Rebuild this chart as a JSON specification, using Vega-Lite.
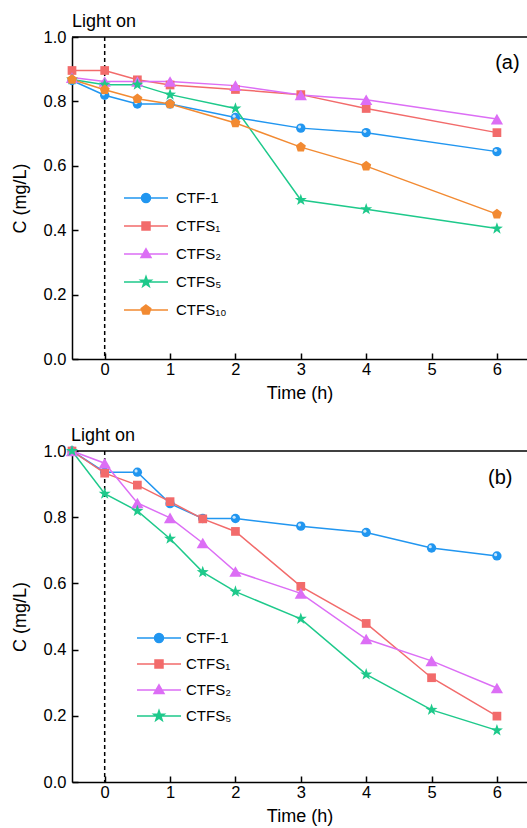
{
  "$schema": "https://vega.github.io/schema/vega-lite/v6.json",
  "background": "white",
  "padding": {"left": 11, "top": 13, "right": 0, "bottom": 4},
  "spacing": 25,
  "config": {
    "font": "Liberation Sans",
    "view": {"stroke": null},
    "axis": {
      "domainColor": "black", "domainWidth": 1.5, "tickColor": "black", "tickWidth": 1.5,
      "labelColor": "black", "labelFontSize": 16.5, "labelFont": "Liberation Sans",
      "titleFont": "Liberation Sans", "titleFontSize": 18, "titleFontWeight": "normal", "titleColor": "black",
      "grid": false
    },
    "legend": {"labelFont": "Liberation Sans", "labelFontSize": 15, "labelColor": "black", "padding": 0, "symbolSize": 400, "labelLimit": 300}
  },
  "resolve": {"scale": {"color": "independent"}},
  "vconcat": [
    {
      "width": 455, "height": 322,
      "data": {"values": [
        {"t": -0.5, "c": 0.865, "s": "CTF-1"}, {"t": 0, "c": 0.819, "s": "CTF-1"}, {"t": 0.5, "c": 0.792, "s": "CTF-1"}, {"t": 1, "c": 0.792, "s": "CTF-1"}, {"t": 2, "c": 0.750, "s": "CTF-1"}, {"t": 3, "c": 0.717, "s": "CTF-1"}, {"t": 4, "c": 0.703, "s": "CTF-1"}, {"t": 6, "c": 0.644, "s": "CTF-1"},
        {"t": -0.5, "c": 0.896, "s": "CTFS₁"}, {"t": 0, "c": 0.896, "s": "CTFS₁"}, {"t": 0.5, "c": 0.867, "s": "CTFS₁"}, {"t": 1, "c": 0.851, "s": "CTFS₁"}, {"t": 2, "c": 0.837, "s": "CTFS₁"}, {"t": 3, "c": 0.821, "s": "CTFS₁"}, {"t": 4, "c": 0.778, "s": "CTFS₁"}, {"t": 6, "c": 0.703, "s": "CTFS₁"},
        {"t": -0.5, "c": 0.874, "s": "CTFS₂"}, {"t": 0, "c": 0.862, "s": "CTFS₂"}, {"t": 0.5, "c": 0.862, "s": "CTFS₂"}, {"t": 1, "c": 0.862, "s": "CTFS₂"}, {"t": 2, "c": 0.849, "s": "CTFS₂"}, {"t": 3, "c": 0.820, "s": "CTFS₂"}, {"t": 4, "c": 0.805, "s": "CTFS₂"}, {"t": 6, "c": 0.745, "s": "CTFS₂"},
        {"t": -0.5, "c": 0.868, "s": "CTFS₅"}, {"t": 0, "c": 0.852, "s": "CTFS₅"}, {"t": 0.5, "c": 0.852, "s": "CTFS₅"}, {"t": 1, "c": 0.821, "s": "CTFS₅"}, {"t": 2, "c": 0.778, "s": "CTFS₅"}, {"t": 3, "c": 0.494, "s": "CTFS₅"}, {"t": 4, "c": 0.465, "s": "CTFS₅"}, {"t": 6, "c": 0.405, "s": "CTFS₅"},
        {"t": -0.5, "c": 0.868, "s": "CTFS₁₀"}, {"t": 0, "c": 0.836, "s": "CTFS₁₀"}, {"t": 0.5, "c": 0.808, "s": "CTFS₁₀"}, {"t": 1, "c": 0.792, "s": "CTFS₁₀"}, {"t": 2, "c": 0.733, "s": "CTFS₁₀"}, {"t": 3, "c": 0.658, "s": "CTFS₁₀"}, {"t": 4, "c": 0.599, "s": "CTFS₁₀"}, {"t": 6, "c": 0.450, "s": "CTFS₁₀"}
      ]},
      "layer": [
        {"data": {"values": [{}]}, "mark": {"type": "rule", "strokeDash": [4, 3], "strokeWidth": 1.5, "color": "black"}, "encoding": {"x": {"datum": 0, "type": "quantitative"}}},
        {"data": {"values": [{}]}, "mark": {"type": "rule", "strokeWidth": 1.5, "color": "black"}, "encoding": {"y": {"datum": 1, "type": "quantitative"}}},
        {"mark": {"type": "line", "strokeWidth": 1.5},
         "encoding": {
           "x": {"field": "t", "type": "quantitative", "scale": {"domain": [-0.5, 6.46], "nice": false, "zero": false},
                 "axis": {"title": "Time (h)", "values": [0, 0.5, 1, 1.5, 2, 2.5, 3, 3.5, 4, 4.5, 5, 5.5, 6],
                          "tickSize": {"condition": {"test": "datum.value % 1 !== 0", "value": -3.5}, "value": -6},
                          "labelExpr": "datum.value % 1 === 0 ? format(datum.value, 'd') : ''", "labelPadding": 8.5, "titlePadding": 6}},
           "y": {"field": "c", "type": "quantitative", "scale": {"domain": [0, 1], "nice": false},
                 "axis": {"title": "C (mg/L)", "values": [0, 0.1, 0.2, 0.3, 0.4, 0.5, 0.6, 0.7, 0.8, 0.9, 1.0],
                          "tickSize": {"condition": {"test": "round(datum.value * 10) % 2 !== 0", "value": -3.5}, "value": -6},
                          "labelExpr": "round(datum.value * 10) % 2 === 0 ? format(datum.value, '.1f') : ''", "labelPadding": 12, "titlePadding": 14}},
           "color": {"field": "s", "type": "nominal",
                     "scale": {"domain": ["CTF-1", "CTFS₁", "CTFS₂", "CTFS₅", "CTFS₁₀"], "range": ["#2196f0", "#f26b6b", "#dc6ef5", "#1ec98b", "#f28a32"]},
                     "legend": {"title": null, "orient": "none", "legendX": 63, "legendY": 150, "rowPadding": 9, "labelOffset": 19, "symbolSize": 400,
                                "encoding": {"symbols": {
                                  "shape": {"value": {"expr": "{'CTF-1':'M-2.2,0H2.2M-0.45,0A0.45,0.45 0 1,0 0.45,0A0.45,0.45 0 1,0 -0.45,0Z','CTFS₁':'M-2.2,0H2.2M-0.4,-0.4H0.4V0.4H-0.4Z','CTFS₂':'M-2.2,0H2.2M0,-0.52L0.5,0.35L-0.5,0.35Z','CTFS₅':'M-2.2,0H2.2M0,-0.55L0.129,-0.178L0.523,-0.170L0.209,0.068L0.323,0.445L0,0.22L-0.323,0.445L-0.209,0.068L-0.523,-0.170L-0.129,-0.178Z','CTFS₁₀':'M-2.2,0H2.2M0,-0.5L0.476,-0.155L0.294,0.405L-0.294,0.405L-0.476,-0.155Z'}[datum.value]"}},
                                  "fill": {"value": {"expr": "{'CTF-1':'#2196f0','CTFS₁':'#f26b6b','CTFS₂':'#dc6ef5','CTFS₅':'#1ec98b','CTFS₁₀':'#f28a32'}[datum.value]"}},
                                  "stroke": {"value": {"expr": "{'CTF-1':'#2196f0','CTFS₁':'#f26b6b','CTFS₂':'#dc6ef5','CTFS₅':'#1ec98b','CTFS₁₀':'#f28a32'}[datum.value]"}},
                                  "strokeWidth": {"value": 1.5}, "size": {"value": 400}, "opacity": {"value": 1}, "fillOpacity": {"value": 1}, "strokeOpacity": {"value": 1}
                                }}}}
         }},
        {"transform": [{"filter": "datum.s === 'CTF-1'"}], "mark": {"type": "point", "filled": true, "opacity": 1, "shape": "circle", "size": 87},
         "encoding": {"x": {"field": "t", "type": "quantitative"}, "y": {"field": "c", "type": "quantitative"}, "color": {"field": "s", "type": "nominal"}}},
        {"transform": [{"filter": "datum.s === 'CTF-1'"}], "mark": {"type": "point", "filled": true, "opacity": 0.75, "shape": "circle", "size": 10, "color": "white", "xOffset": -1.3, "yOffset": -1.3},
         "encoding": {"x": {"field": "t", "type": "quantitative"}, "y": {"field": "c", "type": "quantitative"}}},
        {"transform": [{"filter": "datum.s === 'CTFS₁'"}], "mark": {"type": "point", "filled": true, "opacity": 1, "shape": "square", "size": 76},
         "encoding": {"x": {"field": "t", "type": "quantitative"}, "y": {"field": "c", "type": "quantitative"}, "color": {"field": "s", "type": "nominal"}}},
        {"transform": [{"filter": "datum.s === 'CTFS₂'"}], "mark": {"type": "point", "filled": true, "opacity": 1, "shape": "triangle-up", "size": 150},
         "encoding": {"x": {"field": "t", "type": "quantitative"}, "y": {"field": "c", "type": "quantitative"}, "color": {"field": "s", "type": "nominal"}}},
        {"transform": [{"filter": "datum.s === 'CTFS₅'"}], "mark": {"type": "point", "filled": true, "opacity": 1, "shape": "M0,-1L0.235,-0.324L0.951,-0.309L0.380,0.124L0.588,0.809L0,0.4L-0.588,0.809L-0.380,0.124L-0.951,-0.309L-0.235,-0.324Z", "size": 159},
         "encoding": {"x": {"field": "t", "type": "quantitative"}, "y": {"field": "c", "type": "quantitative"}, "color": {"field": "s", "type": "nominal"}}},
        {"transform": [{"filter": "datum.s === 'CTFS₁₀'"}], "mark": {"type": "point", "filled": true, "opacity": 1, "shape": "M0,-1L0.951,-0.309L0.588,0.809L-0.588,0.809L-0.951,-0.309Z", "size": 112},
         "encoding": {"x": {"field": "t", "type": "quantitative"}, "y": {"field": "c", "type": "quantitative"}, "color": {"field": "s", "type": "nominal"}}},
        {"data": {"values": [{}]}, "mark": {"type": "text", "text": "Light on", "align": "left", "baseline": "alphabetic", "dy": -10, "fontSize": 18, "color": "black"},
         "encoding": {"x": {"datum": -0.5, "type": "quantitative"}, "y": {"datum": 1, "type": "quantitative"}}},
        {"data": {"values": [{}]}, "mark": {"type": "text", "text": "(a)", "align": "center", "baseline": "middle", "fontSize": 20, "color": "black"},
         "encoding": {"x": {"datum": 6.16, "type": "quantitative"}, "y": {"datum": 0.92, "type": "quantitative"}}}
      ]
    },
    {
      "width": 455, "height": 331,
      "data": {"values": [
        {"t": -0.5, "c": 1.0, "s": "CTF-1"}, {"t": 0, "c": 0.936, "s": "CTF-1"}, {"t": 0.5, "c": 0.936, "s": "CTF-1"}, {"t": 1, "c": 0.841, "s": "CTF-1"}, {"t": 1.5, "c": 0.796, "s": "CTF-1"}, {"t": 2, "c": 0.796, "s": "CTF-1"}, {"t": 3, "c": 0.773, "s": "CTF-1"}, {"t": 4, "c": 0.754, "s": "CTF-1"}, {"t": 5, "c": 0.707, "s": "CTF-1"}, {"t": 6, "c": 0.683, "s": "CTF-1"},
        {"t": -0.5, "c": 1.0, "s": "CTFS₁"}, {"t": 0, "c": 0.933, "s": "CTFS₁"}, {"t": 0.5, "c": 0.897, "s": "CTFS₁"}, {"t": 1, "c": 0.847, "s": "CTFS₁"}, {"t": 1.5, "c": 0.795, "s": "CTFS₁"}, {"t": 2, "c": 0.757, "s": "CTFS₁"}, {"t": 3, "c": 0.591, "s": "CTFS₁"}, {"t": 4, "c": 0.479, "s": "CTFS₁"}, {"t": 5, "c": 0.315, "s": "CTFS₁"}, {"t": 6, "c": 0.199, "s": "CTFS₁"},
        {"t": -0.5, "c": 1.0, "s": "CTFS₂"}, {"t": 0, "c": 0.963, "s": "CTFS₂"}, {"t": 0.5, "c": 0.843, "s": "CTFS₂"}, {"t": 1, "c": 0.798, "s": "CTFS₂"}, {"t": 1.5, "c": 0.722, "s": "CTFS₂"}, {"t": 2, "c": 0.636, "s": "CTFS₂"}, {"t": 3, "c": 0.570, "s": "CTFS₂"}, {"t": 4, "c": 0.432, "s": "CTFS₂"}, {"t": 5, "c": 0.366, "s": "CTFS₂"}, {"t": 6, "c": 0.284, "s": "CTFS₂"},
        {"t": -0.5, "c": 1.0, "s": "CTFS₅"}, {"t": 0, "c": 0.871, "s": "CTFS₅"}, {"t": 0.5, "c": 0.819, "s": "CTFS₅"}, {"t": 1, "c": 0.735, "s": "CTFS₅"}, {"t": 1.5, "c": 0.634, "s": "CTFS₅"}, {"t": 2, "c": 0.575, "s": "CTFS₅"}, {"t": 3, "c": 0.493, "s": "CTFS₅"}, {"t": 4, "c": 0.325, "s": "CTFS₅"}, {"t": 5, "c": 0.218, "s": "CTFS₅"}, {"t": 6, "c": 0.156, "s": "CTFS₅"}
      ]},
      "layer": [
        {"data": {"values": [{}]}, "mark": {"type": "rule", "strokeDash": [4, 3], "strokeWidth": 1.5, "color": "black"}, "encoding": {"x": {"datum": 0, "type": "quantitative"}}},
        {"data": {"values": [{}]}, "mark": {"type": "rule", "strokeWidth": 1.5, "color": "black"}, "encoding": {"y": {"datum": 1, "type": "quantitative"}}},
        {"mark": {"type": "line", "strokeWidth": 1.5},
         "encoding": {
           "x": {"field": "t", "type": "quantitative", "scale": {"domain": [-0.5, 6.46], "nice": false, "zero": false},
                 "axis": {"title": "Time (h)", "values": [0, 0.5, 1, 1.5, 2, 2.5, 3, 3.5, 4, 4.5, 5, 5.5, 6],
                          "tickSize": {"condition": {"test": "datum.value % 1 !== 0", "value": -3.5}, "value": -6},
                          "labelExpr": "datum.value % 1 === 0 ? format(datum.value, 'd') : ''", "labelPadding": 8.5, "titlePadding": 6}},
           "y": {"field": "c", "type": "quantitative", "scale": {"domain": [0, 1], "nice": false},
                 "axis": {"title": "C (mg/L)", "values": [0, 0.1, 0.2, 0.3, 0.4, 0.5, 0.6, 0.7, 0.8, 0.9, 1.0],
                          "tickSize": {"condition": {"test": "round(datum.value * 10) % 2 !== 0", "value": -3.5}, "value": -6},
                          "labelExpr": "round(datum.value * 10) % 2 === 0 ? format(datum.value, '.1f') : ''", "labelPadding": 12, "titlePadding": 14}},
           "color": {"field": "s", "type": "nominal",
                     "scale": {"domain": ["CTF-1", "CTFS₁", "CTFS₂", "CTFS₅"], "range": ["#2196f0", "#f26b6b", "#dc6ef5", "#1ec98b"]},
                     "legend": {"title": null, "orient": "none", "legendX": 76, "legendY": 176, "rowPadding": 7, "labelOffset": 16, "symbolSize": 400,
                                "encoding": {"symbols": {
                                  "shape": {"value": {"expr": "{'CTF-1':'M-2.2,0H2.2M-0.45,0A0.45,0.45 0 1,0 0.45,0A0.45,0.45 0 1,0 -0.45,0Z','CTFS₁':'M-2.2,0H2.2M-0.4,-0.4H0.4V0.4H-0.4Z','CTFS₂':'M-2.2,0H2.2M0,-0.52L0.5,0.35L-0.5,0.35Z','CTFS₅':'M-2.2,0H2.2M0,-0.55L0.129,-0.178L0.523,-0.170L0.209,0.068L0.323,0.445L0,0.22L-0.323,0.445L-0.209,0.068L-0.523,-0.170L-0.129,-0.178Z'}[datum.value]"}},
                                  "fill": {"value": {"expr": "{'CTF-1':'#2196f0','CTFS₁':'#f26b6b','CTFS₂':'#dc6ef5','CTFS₅':'#1ec98b'}[datum.value]"}},
                                  "stroke": {"value": {"expr": "{'CTF-1':'#2196f0','CTFS₁':'#f26b6b','CTFS₂':'#dc6ef5','CTFS₅':'#1ec98b'}[datum.value]"}},
                                  "strokeWidth": {"value": 1.5}, "size": {"value": 400}, "opacity": {"value": 1}, "fillOpacity": {"value": 1}, "strokeOpacity": {"value": 1}
                                }}}}
         }},
        {"transform": [{"filter": "datum.s === 'CTF-1'"}], "mark": {"type": "point", "filled": true, "opacity": 1, "shape": "circle", "size": 87},
         "encoding": {"x": {"field": "t", "type": "quantitative"}, "y": {"field": "c", "type": "quantitative"}, "color": {"field": "s", "type": "nominal"}}},
        {"transform": [{"filter": "datum.s === 'CTF-1'"}], "mark": {"type": "point", "filled": true, "opacity": 0.75, "shape": "circle", "size": 10, "color": "white", "xOffset": -1.3, "yOffset": -1.3},
         "encoding": {"x": {"field": "t", "type": "quantitative"}, "y": {"field": "c", "type": "quantitative"}}},
        {"transform": [{"filter": "datum.s === 'CTFS₁'"}], "mark": {"type": "point", "filled": true, "opacity": 1, "shape": "square", "size": 76},
         "encoding": {"x": {"field": "t", "type": "quantitative"}, "y": {"field": "c", "type": "quantitative"}, "color": {"field": "s", "type": "nominal"}}},
        {"transform": [{"filter": "datum.s === 'CTFS₂'"}], "mark": {"type": "point", "filled": true, "opacity": 1, "shape": "triangle-up", "size": 150},
         "encoding": {"x": {"field": "t", "type": "quantitative"}, "y": {"field": "c", "type": "quantitative"}, "color": {"field": "s", "type": "nominal"}}},
        {"transform": [{"filter": "datum.s === 'CTFS₅'"}], "mark": {"type": "point", "filled": true, "opacity": 1, "shape": "M0,-1L0.235,-0.324L0.951,-0.309L0.380,0.124L0.588,0.809L0,0.4L-0.588,0.809L-0.380,0.124L-0.951,-0.309L-0.235,-0.324Z", "size": 159},
         "encoding": {"x": {"field": "t", "type": "quantitative"}, "y": {"field": "c", "type": "quantitative"}, "color": {"field": "s", "type": "nominal"}}},
        {"data": {"values": [{}]}, "mark": {"type": "text", "text": "Light on", "align": "left", "baseline": "alphabetic", "dy": -10, "dx": -1, "fontSize": 18, "color": "black"},
         "encoding": {"x": {"datum": -0.5, "type": "quantitative"}, "y": {"datum": 1, "type": "quantitative"}}},
        {"data": {"values": [{}]}, "mark": {"type": "text", "text": "(b)", "align": "center", "baseline": "middle", "fontSize": 20, "color": "black"},
         "encoding": {"x": {"datum": 6.05, "type": "quantitative"}, "y": {"datum": 0.917, "type": "quantitative"}}}
      ]
    }
  ]
}
